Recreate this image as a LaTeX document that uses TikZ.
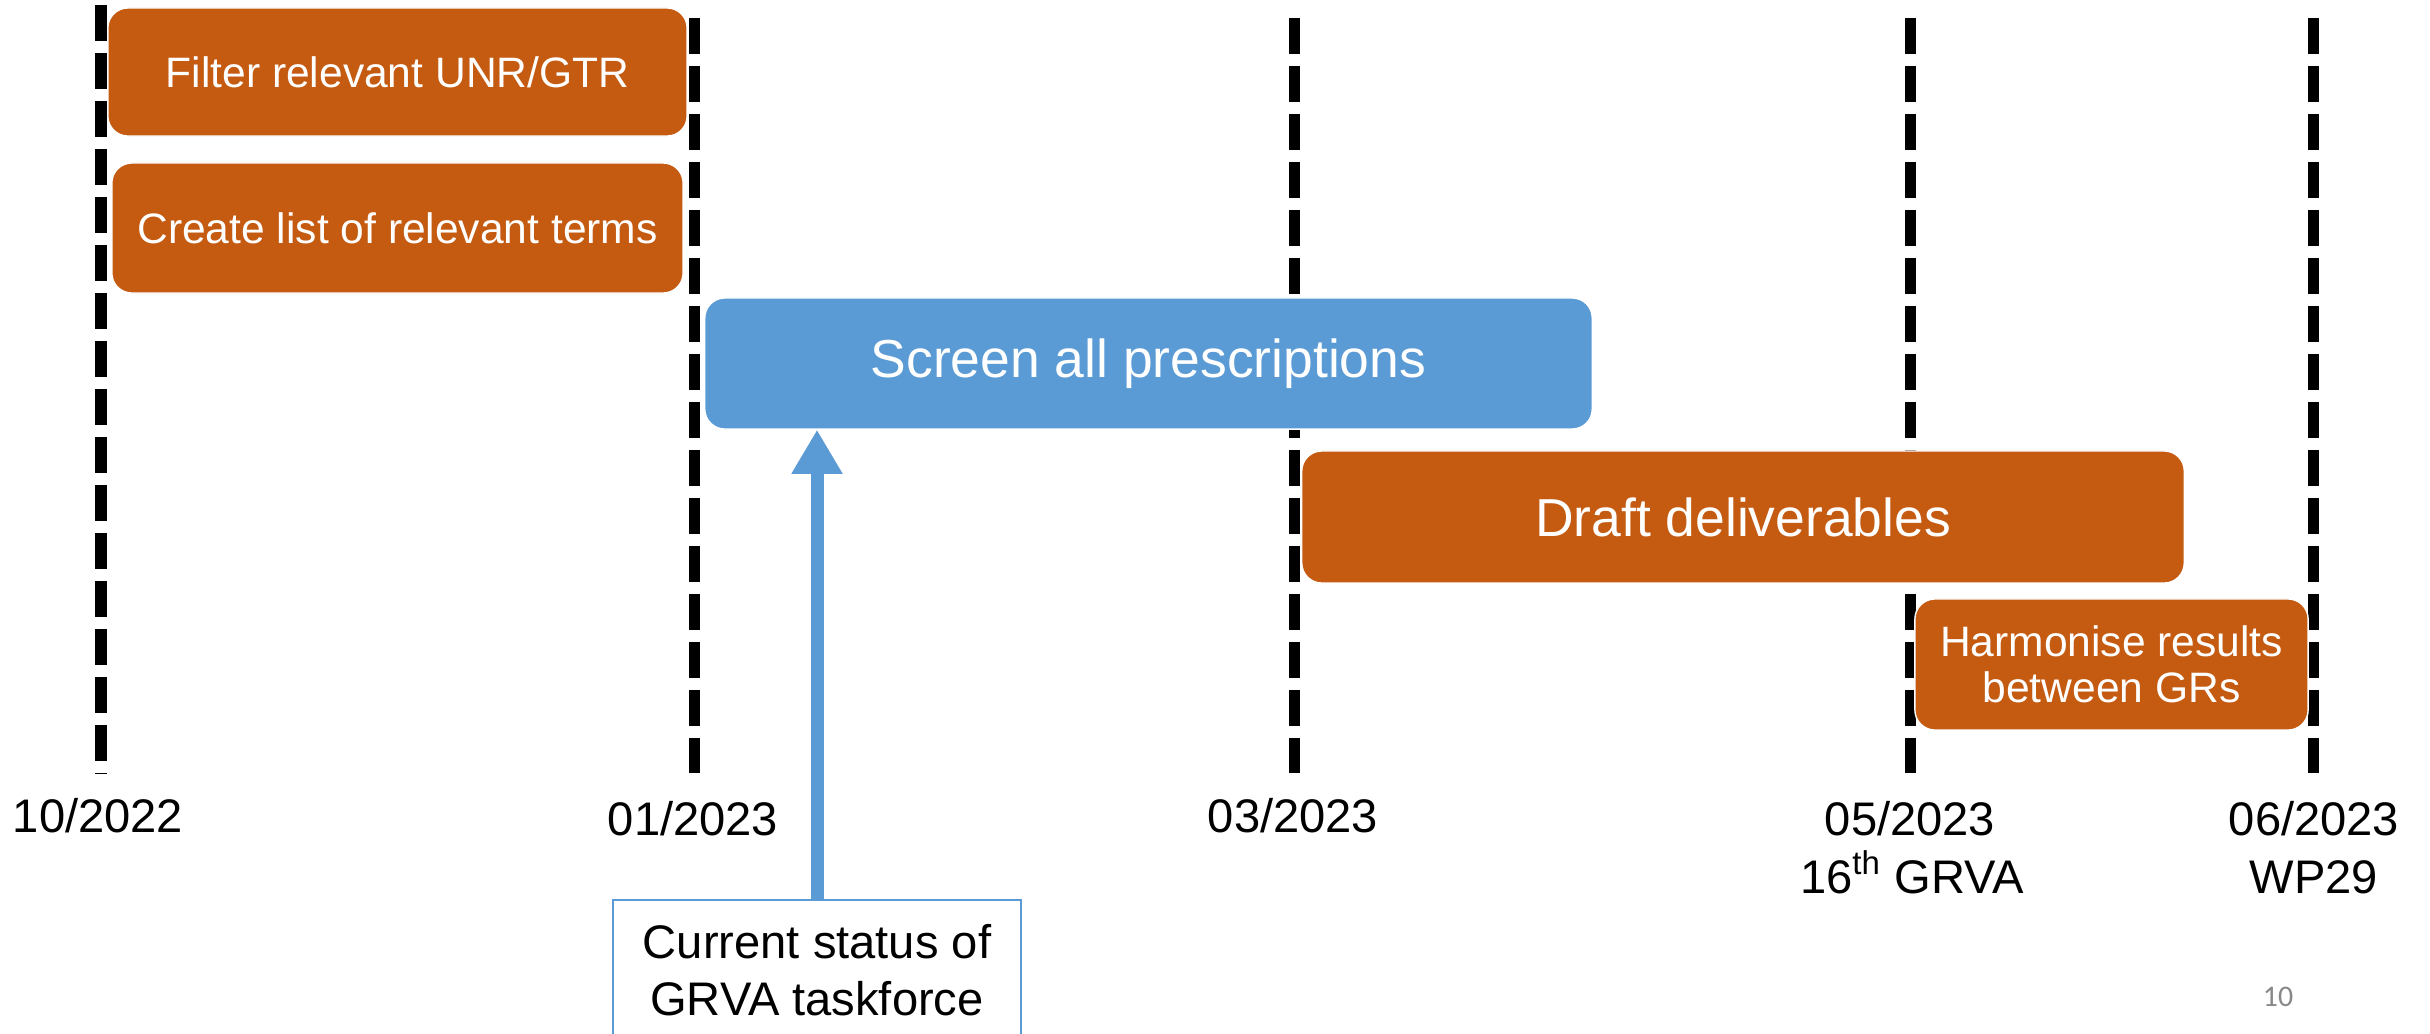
\documentclass[tikz,border=0pt]{standalone}
\usepackage{fontspec}
\setmainfont{Liberation Sans}
\newfontfamily\pnfont{Carlito}
\usetikzlibrary{arrows.meta}
\definecolor{taskorange}{RGB}{197,90,17}
\definecolor{taskblue}{RGB}{91,155,213}
\definecolor{pagegray}{RGB}{137,137,137}
\tikzset{
  msline/.style={line width=0.11cm, dash pattern=on 0.36cm off 0.12cm},
  taskbox/.style={rectangle, rounded corners=0.2cm, draw=white, line width=0.4pt,
    text=white, inner sep=0pt, align=center},
  smalltxt/.style={font=\fontsize{12.1}{13.1}\selectfont},
  bigtxt/.style={font=\fontsize{15.2}{18}\selectfont},
  datetxt/.style={font=\fontsize{13.4}{16.2}\selectfont, anchor=base, inner sep=0pt},
  statusbox/.style={rectangle, draw=taskblue, line width=0.6pt, fill=white, inner sep=0pt,
    align=center, minimum width=4.08cm, minimum height=1.41cm,
    font=\fontsize{13.4}{16.2}\selectfont},
  statusarrow/.style={draw=taskblue, line width=0.13cm, -{Triangle[width=0.48cm,length=0.44cm]}}
}
\begin{document}
\begin{tikzpicture}[x=0.01cm,y=-0.01cm]
\useasboundingbox (0,0) rectangle (2430,1033);
\clip (0,0) rectangle (2430,1033);
\fill[white] (0,0) rectangle (2430,1033);

% milestone lines
\coordinate (l1t) at (101,5);    \coordinate (l1b) at (101,774);
\coordinate (l2t) at (694,18);   \coordinate (l2b) at (694,773);
\coordinate (l3t) at (1294,18);  \coordinate (l3b) at (1294,773);
\coordinate (l4t) at (1910,18);  \coordinate (l4b) at (1910,773);
\coordinate (l5t) at (2313,18);  \coordinate (l5b) at (2313,773);
\draw[msline] (l1t) -- (l1b);
\draw[msline] (l2t) -- (l2b);
\draw[msline] (l3t) -- (l3b);
\draw[msline] (l4t) -- (l4b);
\draw[msline] (l5t) -- (l5b);

% task boxes
\node[taskbox, fill=taskorange, smalltxt, minimum width=5.79cm, minimum height=1.28cm]
  (filter) at (397.5,72) {Filter relevant UNR/GTR};
\node[taskbox, fill=taskorange, smalltxt, minimum width=5.71cm, minimum height=1.30cm]
  (create) at (397.5,228) {Create list of relevant terms};
\node[taskbox, fill=taskblue, bigtxt, minimum width=8.87cm, minimum height=1.31cm]
  (screen) at (1148.5,363.5) {Screen all prescriptions};
\node[taskbox, fill=taskorange, bigtxt, minimum width=8.82cm, minimum height=1.32cm]
  (draft) at (1743,517) {Draft deliverables};
\node[taskbox, fill=taskorange, smalltxt, minimum width=3.93cm, minimum height=1.31cm]
  (harm) at (2111.5,664.5) {Harmonise results\\between GRs};

% date labels
\node[datetxt] (d1) at (98,832) {10/2022};
\node[datetxt] (d2) at (693,835) {01/2023};
\node[datetxt] (d3) at (1293,832) {03/2023};
\node[datetxt] (d4) at (1910,835) {05/2023};
\node[datetxt] (d4b) at (1912,893) {16\textsuperscript{th} GRVA};
\node[datetxt] (d5) at (2314,835) {06/2023};
\node[datetxt] (d5b) at (2314,893) {WP29};

% status
\node[statusbox] (status) at (817,970.5) {Current status of\\GRVA taskforce};
\draw[statusarrow] (status.north) -- (status.north |- screen.south);

% page number
\node[font=\pnfont\fontsize{8.5}{10}\selectfont, text=pagegray, inner sep=0pt]
  (pnum) at (2278,997) {10};
\end{tikzpicture}
\end{document}
